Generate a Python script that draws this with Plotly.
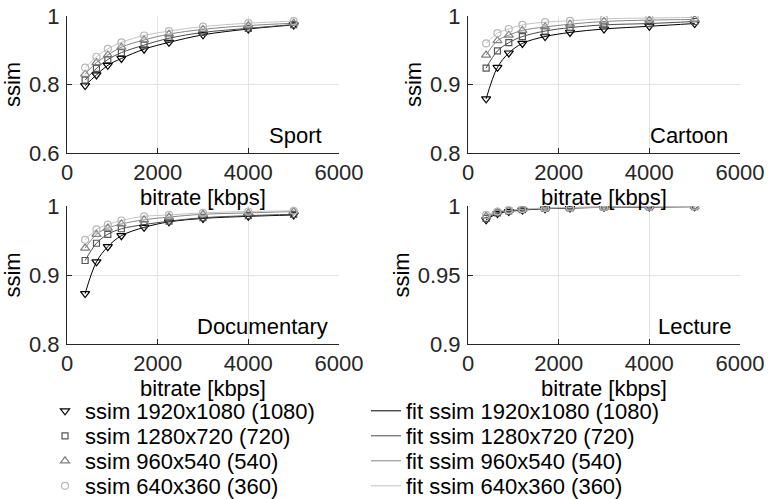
import plotly.graph_objects as go

# ---- data ----
bitrate = [400, 650, 900, 1200, 1700, 2250, 3000, 4000, 5000]
resolutions = ["1920x1080 (1080)", "1280x720 (720)", "960x540 (540)", "640x360 (360)"]
panels = ["Sport", "Cartoon", "Documentary", "Lecture"]

sport_1080 = [0.797, 0.828, 0.856, 0.876, 0.903, 0.923, 0.945, 0.962, 0.974]
sport_720 = [0.813, 0.847, 0.873, 0.893, 0.915, 0.935, 0.952, 0.964, 0.975]
sport_540 = [0.830, 0.864, 0.886, 0.909, 0.930, 0.947, 0.961, 0.972, 0.979]
sport_360 = [0.849, 0.881, 0.904, 0.923, 0.943, 0.956, 0.969, 0.979, 0.985]

cartoon_1080 = [0.879, 0.925, 0.946, 0.960, 0.970, 0.976, 0.981, 0.985, 0.989]
cartoon_720 = [0.924, 0.949, 0.961, 0.970, 0.978, 0.983, 0.987, 0.989, 0.992]
cartoon_540 = [0.943, 0.964, 0.972, 0.979, 0.984, 0.988, 0.992, 0.994, 0.995]
cartoon_360 = [0.960, 0.975, 0.981, 0.987, 0.991, 0.993, 0.996, 0.997, 0.998]

documentary_1080 = [0.873, 0.919, 0.941, 0.957, 0.969, 0.977, 0.982, 0.985, 0.987]
documentary_720 = [0.921, 0.946, 0.959, 0.967, 0.973, 0.978, 0.983, 0.986, 0.988]
documentary_540 = [0.939, 0.959, 0.968, 0.974, 0.980, 0.984, 0.988, 0.990, 0.992]
documentary_360 = [0.951, 0.966, 0.973, 0.979, 0.985, 0.987, 0.990, 0.992, 0.993]

lecture_1080 = [0.9900, 0.9945, 0.9960, 0.9970, 0.9980, 0.9985, 0.9990, 0.9993, 0.9995]
lecture_720 = [0.9910, 0.9950, 0.9965, 0.9973, 0.9982, 0.9987, 0.9991, 0.9994, 0.9996]
lecture_540 = [0.9925, 0.9955, 0.9968, 0.9976, 0.9984, 0.9988, 0.9992, 0.9995, 0.9997]
lecture_360 = [0.9935, 0.9960, 0.9970, 0.9978, 0.9985, 0.9990, 0.9993, 0.9996, 0.9998]

panel_series = [
    [sport_1080, sport_720, sport_540, sport_360],
    [cartoon_1080, cartoon_720, cartoon_540, cartoon_360],
    [documentary_1080, documentary_720, documentary_540, documentary_360],
    [lecture_1080, lecture_720, lecture_540, lecture_360],
]
y_ranges = [[0.6, 1.0], [0.8, 1.0], [0.8, 1.0], [0.9, 1.0]]
y_dticks = [0.2, 0.1, 0.1, 0.05]

# ---- styles ----
W, H = 768, 499
FONT = "Liberation Sans, Arial, Helvetica, sans-serif"
AX = "#262626"
marker_symbols = ["triangle-down-open", "square-open", "triangle-up-open", "circle-open"]
marker_sizes = [8, 6, 8, 7]
marker_colors = ["#000000", "#555555", "#808080", "#b8b8b8"]
fit_colors = ["#000000", "#4a4a4a", "#858585", "#c4c4c4"]

# panel pixel boxes (left, right, top, bottom)
boxes = [(67, 339, 16, 153), (468, 740, 16, 153), (67, 339, 206, 344), (468, 740, 206, 344)]
label_pos = [0.945, 0.963, 0.967, 0.974]
legend_rows = [411, 436, 461, 486]

fig = go.Figure()
for p, series in enumerate(panel_series):
    ax = "" if p == 0 else str(p + 1)
    for i, ys in enumerate(series):
        fig.add_trace(go.Scatter(
            x=bitrate, y=ys, mode="lines", line=dict(color=fit_colors[i], width=1, shape="spline", smoothing=1.0),
            name="fit ssim " + resolutions[i], legend="legend" + str(5 + i), showlegend=(p == 0),
            xaxis="x" + ax, yaxis="y" + ax, hoverinfo="skip"))
    for i, ys in enumerate(series):
        fig.add_trace(go.Scatter(
            x=bitrate, y=ys, mode="markers",
            marker=dict(symbol=marker_symbols[i], size=marker_sizes[i], color=marker_colors[i],
                        line=dict(width=1.2, color=marker_colors[i])),
            name="ssim " + resolutions[i], legend=("legend" if i == 0 else "legend" + str(1 + i)),
            showlegend=(p == 0), xaxis="x" + ax, yaxis="y" + ax))

layout = dict(
    width=W, height=H, margin=dict(l=0, r=0, t=0, b=0, autoexpand=False),
    paper_bgcolor="white", plot_bgcolor="white",
    font=dict(family=FONT, size=22, color=AX),
    annotations=[],
)
for i in range(8):
    key = "legend" if i == 0 else "legend" + str(i + 1)
    left = 45 if i < 4 else 366
    layout[key] = dict(x=left / W, y=1 - legend_rows[i % 4] / H, xanchor="left", yanchor="middle",
                       bgcolor="rgba(0,0,0,0)", font=dict(size=22, color="#000000"), itemwidth=30)

for p, (l, r, t, b) in enumerate(boxes):
    ax = "" if p == 0 else str(p + 1)
    common = dict(showline=True, linecolor=AX, linewidth=1, ticks="inside", ticklen=5, tickcolor=AX,
                  showgrid=True, gridcolor="#e3e3e3", gridwidth=1, zeroline=False, mirror=False,
                  automargin=False, tickfont=dict(size=22, color=AX))
    layout["xaxis" + ax] = dict(common, domain=[l / W, r / W], anchor="y" + ax, range=[0, 6000],
                                tickvals=[0, 2000, 4000, 6000], ticklabelstandoff=0,
                                title=dict(text="bitrate [kbps]", standoff=0, font=dict(size=22, color="#000000")))
    layout["yaxis" + ax] = dict(common, domain=[1 - b / H, 1 - t / H], anchor="x" + ax, range=y_ranges[p],
                                dtick=y_dticks[p], tick0=0, ticklabelstandoff=2,
                                title=dict(text="ssim", standoff=2, font=dict(size=22, color="#000000")))
    layout["annotations"].append(dict(
        text=panels[p], xref="x" + ax + " domain", yref="y" + ax + " domain",
        x=label_pos[p], y=0.13, xanchor="right", yanchor="middle", showarrow=False,
        font=dict(size=22, color="#000000")))

fig.update_layout(**layout)
fig.write_html("out.html")
